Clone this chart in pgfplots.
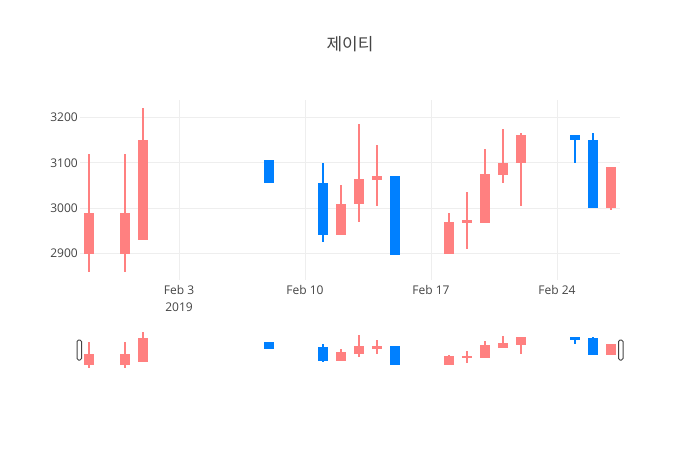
\documentclass[border=0pt]{standalone}
\usepackage{pgfplots}
\pgfplotsset{compat=1.18}
\usepackage{pgfplotstable}
\usepackage{fontspec}
\setmainfont{Open Sans}
\newfontfamily\kr{Noto Sans CJK KR}
\definecolor{textgray}{HTML}{444444}
\definecolor{gridgray}{HTML}{EEEEEE}
\definecolor{incred}{HTML}{FF8080}
\definecolor{decblue}{HTML}{0080FF}
% day of year: Jan 29 = 29, Feb 1 = 32, Feb 27 = 58
\pgfplotstableread{
x  o    h    l    c
29 2900 3120 2860 2990
31 2900 3120 2860 2990
32 2930 3220 2930 3150
43 2940 3050 2940 3010
44 3010 3185 2970 3065
45 3063 3140 3005 3070
49 2900 2990 2900 2970
50 2968 3035 2910 2973
51 2968 3130 2968 3075
52 3073 3175 3056 3100
53 3100 3165 3005 3160
58 3000 3090 2995 3090
}\inc
\pgfplotstableread{
x  o    h    l    c
39 3105 3105 3055 3055
42 3055 3100 2925 2940
46 3070 3070 2898 2898
56 3162 3162 3100 3150
57 3150 3165 3000 3000
}\dec
\pgfplotsset{
  wick/.style={draw=none, mark=none, error bars/.cd, y dir=both, y explicit, error mark=none,
    error bar style={draw=#1, line width=2pt}},
  body/.style={draw=none, mark=none, error bars/.cd, y dir=both, y explicit, error mark=none,
    error bar style={draw=#1, line width=10pt}},
  swick/.style={draw=none, mark=none, error bars/.cd, y dir=both, y explicit, error mark=none,
    error bar style={draw=#1, line width=1.5pt}},
  sbody/.style={draw=none, mark=none, error bars/.cd, y dir=both, y explicit, error mark=none,
    error bar style={draw=#1, line width=9.5pt}},
}
\begin{document}
\begin{tikzpicture}[x=1pt,y=1pt]
\path[use as bounding box] (0,0) rectangle (700,450);
\node[text=textgray] at (350,406) {\kr\fontsize{17}{20}\selectfont 제이티};
\begin{axis}[
  at={(80pt,170pt)}, anchor=south west,
  width=540pt, height=180pt, scale only axis,
  xmin=28.5, xmax=58.5, ymin=2842, ymax=3238,
  axis line style={draw=none},
  major tick length=0pt,
  xtick={34,41,48,55},
  xticklabels={{Feb 3\\2019},{Feb 10},{Feb 17},{Feb 24}},
  ytick={2900,3000,3100,3200},
  grid=major,
  grid style={gridgray, line width=1pt},
  ticklabel style={text=textgray, font=\fontsize{12}{17}\selectfont},
  xticklabel style={align=center, inner sep=0pt, yshift=-5pt},
  yticklabel style={inner sep=0pt, xshift=-2pt},
  /pgf/number format/assume math mode=true,
  /pgf/number format/1000 sep={},
  clip=false,
]
\addplot[wick=incred]
  table[x=x, y expr={(\thisrow{h}+\thisrow{l})/2}, y error expr={(\thisrow{h}-\thisrow{l})/2}] {\inc};
\addplot[body=incred]
  table[x=x, y expr={(\thisrow{o}+\thisrow{c})/2}, y error expr={abs(\thisrow{c}-\thisrow{o})/2}] {\inc};
\addplot[wick=decblue]
  table[x=x, y expr={(\thisrow{h}+\thisrow{l})/2}, y error expr={(\thisrow{h}-\thisrow{l})/2}] {\dec};
\addplot[body=decblue]
  table[x=x, y expr={(\thisrow{o}+\thisrow{c})/2}, y error expr={abs(\thisrow{c}-\thisrow{o})/2}] {\dec};
\end{axis}
\begin{axis}[
  at={(80pt,80pt)}, anchor=south west,
  width=540pt, height=40pt, scale only axis,
  xmin=28.5, xmax=58.5, ymin=2842, ymax=3238,
  axis line style={draw=none},
  xtick=\empty, ytick=\empty,
  clip=false,
]
\addplot[swick=incred]
  table[x=x, y expr={(\thisrow{h}+\thisrow{l})/2}, y error expr={(\thisrow{h}-\thisrow{l})/2}] {\inc};
\addplot[sbody=incred]
  table[x=x, y expr={(\thisrow{o}+\thisrow{c})/2}, y error expr={abs(\thisrow{c}-\thisrow{o})/2+10}] {\inc};
\addplot[swick=decblue]
  table[x=x, y expr={(\thisrow{h}+\thisrow{l})/2}, y error expr={(\thisrow{h}-\thisrow{l})/2}] {\dec};
\addplot[sbody=decblue]
  table[x=x, y expr={(\thisrow{o}+\thisrow{c})/2}, y error expr={abs(\thisrow{c}-\thisrow{o})/2+10}] {\dec};
\end{axis}
\draw[textgray, line width=1pt, fill=white, rounded corners=1.5pt] (77,90) rectangle (81.5,110);
\draw[textgray, line width=1pt, fill=white, rounded corners=1.5pt] (618.5,90) rectangle (623,110);
\end{tikzpicture}
\end{document}
